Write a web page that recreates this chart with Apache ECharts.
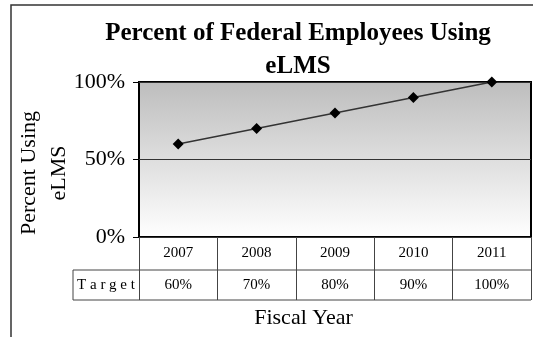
<!DOCTYPE html>
<html>
<head>
<meta charset="utf-8">
<script src="https://cdn.jsdelivr.net/npm/echarts@6/dist/echarts.min.js"></script>
<style>
  body { margin: 0; background: #fff; }
  #chart { width: 533px; height: 337px; }
</style>
</head>
<body>
<div id="chart"></div>
<script>
// data
var years = ["2007", "2008", "2009", "2010", "2011"];
var percentUsing = [60, 70, 80, 90, 100];
var targets = ["60%", "70%", "80%", "90%", "100%"];
var yTicks = [0, 50, 100];

var serif = "Liberation Serif";
// plot box in pixels
var plotLeft = 139, plotRight = 2, plotTop = 82, plotBottom = 100;
var plotBottomY = 337 - plotBottom; // 237
var row1 = 33, row2 = 30;
var tableRight = 533 - plotRight;
var headerLeft = 73;

var chart = echarts.init(document.getElementById("chart"));

chart.setOption({
  animation: false,
  backgroundColor: "#fff",
  title: {
    text: "Percent of Federal Employees Using\neLMS",
    left: 293,
    top: 12,
    textAlign: "center",
    textStyle: {
      fontFamily: serif,
      fontWeight: "bold",
      fontSize: 25,
      lineHeight: 33,
      color: "#000"
    }
  },
  grid: {
    left: plotLeft,
    right: plotRight,
    top: plotTop,
    bottom: plotBottom,
    containLabel: false,
    outerBoundsMode: "none",
    show: true,
    borderColor: "#000",
    borderWidth: 2,
    backgroundColor: new echarts.graphic.LinearGradient(0, 0, 0, 1, [
      { offset: 0, color: "#bdbdbd" },
      { offset: 1, color: "#ffffff" }
    ])
  },
  xAxis: {
    type: "category",
    data: years,
    boundaryGap: true,
    name: "Fiscal Year",
    nameLocation: "middle",
    nameGap: 70,
    nameMoveOverlap: false,
    nameTextStyle: { fontFamily: serif, fontSize: 22, color: "#000", padding: [0, 63, 0, 0] },
    axisLine: { show: false },
    axisTick: {
      show: true,
      alignWithLabel: false,
      length: row1 + row2,
      lineStyle: { color: "#444", width: 1 }
    },
    axisLabel: {
      margin: 0,
      interval: 0,
      formatter: function (value, idx) {
        return "{y|" + value + "}\n{t|" + targets[idx] + "}";
      },
      rich: {
        y: { fontFamily: serif, fontSize: 15, lineHeight: row1, color: "#000" },
        t: { fontFamily: serif, fontSize: 15, lineHeight: row2, color: "#000" }
      }
    }
  },
  yAxis: {
    type: "value",
    min: yTicks[0],
    max: yTicks[yTicks.length - 1],
    interval: yTicks[1] - yTicks[0],
    name: "Percent Using\neLMS",
    nameLocation: "middle",
    nameGap: 65,
    nameMoveOverlap: false,
    nameRotate: 90,
    nameTextStyle: { fontFamily: serif, fontSize: 22, lineHeight: 30, color: "#000", padding: [0, 27, 0, 0] },
    axisLine: { show: false },
    axisTick: { show: true, length: 6, lineStyle: { color: "#000" } },
    axisLabel: {
      formatter: "{value}%",
      margin: 14,
      fontFamily: serif,
      fontSize: 22,
      color: "#000"
    },
    splitLine: { show: true, lineStyle: { color: "#333", width: 1 } }
  },
  series: [
    {
      type: "line",
      data: percentUsing,
      symbol: "diamond",
      symbolSize: 11,
      itemStyle: { color: "#000" },
      lineStyle: { color: "#333", width: 1.5 }
    }
  ],
  graphic: [
    // outer chart frame (left and top edges visible)
    {
      type: "polyline",
      shape: { points: [[11, 337], [11, 5], [533, 5]] },
      style: { stroke: "#333", lineWidth: 1.5, fill: null }
    },
    // table rows under the plot
    {
      type: "line",
      shape: { x1: plotLeft, y1: plotBottomY + row1, x2: tableRight, y2: plotBottomY + row1 },
      style: { stroke: "#444", lineWidth: 1 }
    },
    {
      type: "line",
      shape: { x1: headerLeft, y1: plotBottomY + row1 + row2, x2: tableRight, y2: plotBottomY + row1 + row2 },
      style: { stroke: "#444", lineWidth: 1 }
    },
    {
      type: "polyline",
      shape: { points: [[plotLeft, plotBottomY + row1], [headerLeft, plotBottomY + row1], [headerLeft, plotBottomY + row1 + row2]] },
      style: { stroke: "#444", lineWidth: 1, fill: null }
    },
    {
      type: "text",
      x: (headerLeft + plotLeft) / 2,
      y: plotBottomY + row1 + row2 / 2,
      style: {
        text: "T a r g e t",
        font: "15px " + serif,
        fill: "#000",
        align: "center",
        verticalAlign: "middle"
      }
    }
  ]
});
</script>
</body>
</html>
